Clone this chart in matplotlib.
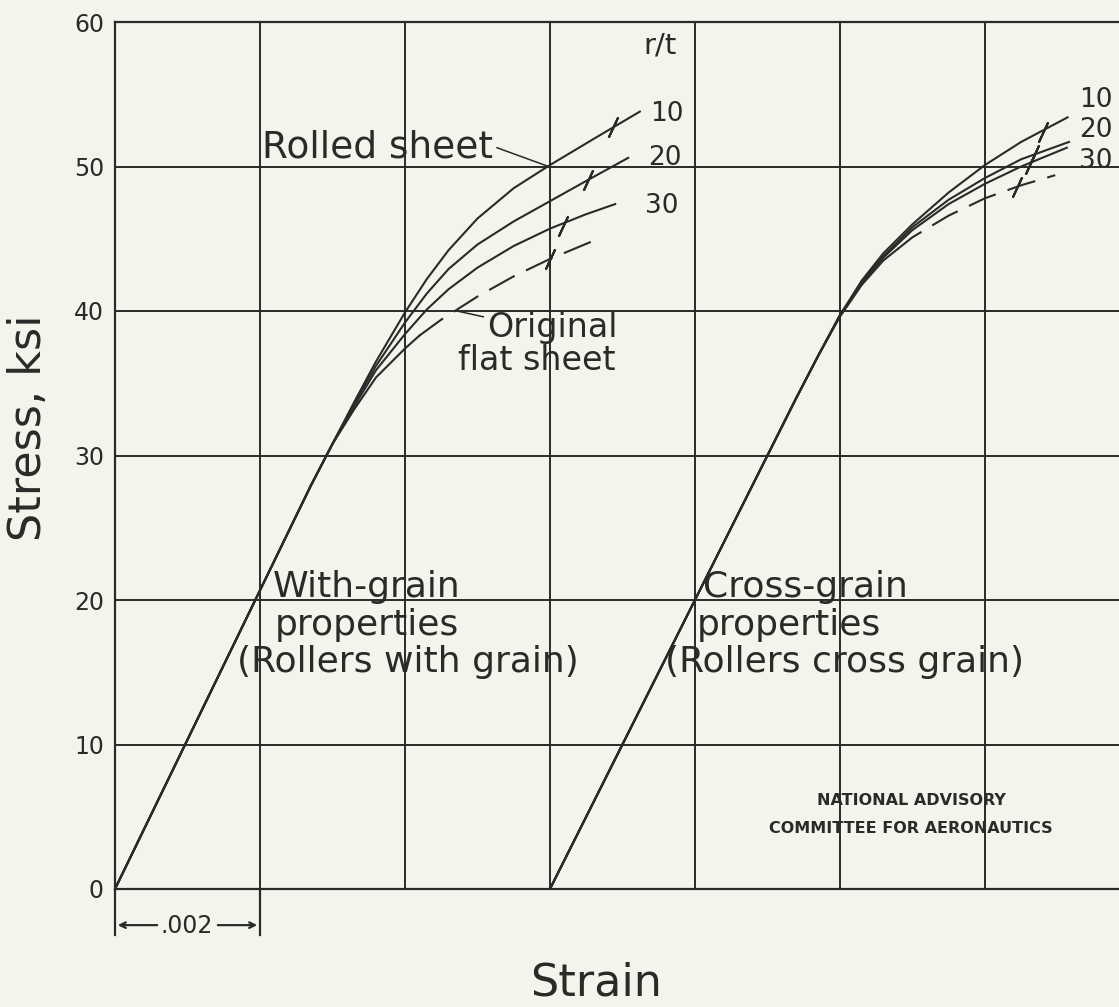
import matplotlib
matplotlib.use("Agg")
from matplotlib import pyplot as plt

# with-grain curves (strain, stress ksi)
wg_strain_10 = [0, 0.0027, 0.0030, 0.0033, 0.0036, 0.0040, 0.0043, 0.0046, 0.0050, 0.0055, 0.0060, 0.0066, 0.00724]
wg_stress_10 = [0, 27.9, 30.8, 33.7, 36.5, 39.9, 42.2, 44.2, 46.4, 48.5, 50.1, 51.9, 53.8]
wg_strain_20 = [0, 0.0027, 0.0030, 0.0033, 0.0036, 0.0040, 0.0043, 0.0046, 0.0050, 0.0055, 0.0060, 0.0065, 0.00708]
wg_stress_20 = [0, 27.9, 30.8, 33.6, 36.2, 39.2, 41.2, 42.9, 44.6, 46.2, 47.6, 49.0, 50.6]
wg_strain_30 = [0, 0.0027, 0.0030, 0.0033, 0.0036, 0.0040, 0.0043, 0.0046, 0.0050, 0.0055, 0.0060, 0.0065, 0.0069]
wg_stress_30 = [0, 27.9, 30.8, 33.4, 35.9, 38.4, 40.1, 41.5, 43.0, 44.5, 45.7, 46.7, 47.4]
wg_strain_flat = [0, 0.0027, 0.0030, 0.0033, 0.0036, 0.0040, 0.0042]
wg_stress_flat = [0, 27.9, 30.8, 33.2, 35.4, 37.4, 38.3]
wg_strain_flat_dash = [0.0042, 0.0045, 0.0050, 0.0055, 0.0060, 0.00662]
wg_stress_flat_dash = [38.3, 39.4, 41.0, 42.4, 43.6, 44.9]

# cross-grain curves
cg_strain_10 = [0.006, 0.0094, 0.0097, 0.0100, 0.0103, 0.0106, 0.0110, 0.0115, 0.0120, 0.0125, 0.01314]
cg_stress_10 = [0, 34.0, 36.9, 39.7, 42.1, 44.0, 46.0, 48.2, 50.1, 51.7, 53.4]
cg_strain_20 = [0.006, 0.0094, 0.0097, 0.0100, 0.0103, 0.0106, 0.0110, 0.0115, 0.0120, 0.0125, 0.01316]
cg_stress_20 = [0, 34.0, 36.9, 39.7, 42.0, 43.8, 45.8, 47.7, 49.2, 50.5, 51.7]
cg_strain_30 = [0.006, 0.0094, 0.0097, 0.0100, 0.0103, 0.0106, 0.0110, 0.0115, 0.0120, 0.0125, 0.01313]
cg_stress_30 = [0, 34.0, 36.9, 39.7, 41.9, 43.7, 45.6, 47.4, 48.8, 50.0, 51.3]
cg_strain_flat = [0.006, 0.0094, 0.0097, 0.0100, 0.0103, 0.0106, 0.0108]
cg_stress_flat = [0, 34.0, 36.9, 39.6, 41.8, 43.5, 44.3]
cg_strain_flat_dash = [0.0108, 0.0110, 0.0115, 0.0120, 0.0125, 0.01297]
cg_stress_flat_dash = [44.3, 45.1, 46.6, 47.8, 48.7, 49.4]

# small slanted marks on the curves
mark_strain = [0.00687, 0.00652, 0.00618, 0.0060, 0.0128, 0.01268, 0.01262, 0.01244]
mark_stress = [52.7, 49.1, 45.9, 43.6, 52.4, 50.8, 50.2, 48.6]

y_ticks = [0, 10, 20, 30, 40, 50, 60]
x_grid = [0, 0.002, 0.004, 0.006, 0.008, 0.010, 0.012]

ink = "#2b2a28"
paper = "#f4f3ec"
plt.rcParams["font.family"] = "DejaVu Sans"

fig = plt.figure(figsize=(11.19, 10.07), dpi=100, facecolor=paper)
ax = fig.add_axes([115/1119, 118/1007, 1004/1119, 867/1007], facecolor=paper)
ax.set_xlim(0, 0.01385)
ax.set_ylim(0, 60)

for s in ["left", "top", "bottom"]:
    ax.spines[s].set_color(ink)
    ax.spines[s].set_linewidth(1.6)
ax.spines["right"].set_visible(False)
ax.set_xticks(x_grid)
ax.set_xticklabels([])
ax.set_yticks(y_ticks)
ax.set_yticklabels([str(v) for v in y_ticks])
ax.tick_params(length=0, pad=8, labelsize=17, labelcolor=ink)
ax.grid(True, color=ink, linewidth=1.4)

lw = 1.5
dash = (14, 6)
for x, y in [(wg_strain_10, wg_stress_10), (wg_strain_20, wg_stress_20),
             (wg_strain_30, wg_stress_30), (wg_strain_flat, wg_stress_flat),
             (cg_strain_10, cg_stress_10), (cg_strain_20, cg_stress_20),
             (cg_strain_30, cg_stress_30), (cg_strain_flat, cg_stress_flat)]:
    ax.plot(x, y, color=ink, lw=lw, solid_joinstyle="round")
for x, y in [(wg_strain_flat_dash, wg_stress_flat_dash), (cg_strain_flat_dash, cg_stress_flat_dash)]:
    ax.plot(x, y, color=ink, lw=lw, dashes=dash)

ax.plot(mark_strain, mark_stress, linestyle="none", marker=(2, 2, -25),
        markersize=16, markeredgewidth=1.5, color=ink)

# extensions and .002 dimension below the axis
ax.plot([0, 0], [0, -3.2], color=ink, lw=1.6, clip_on=False)
ax.plot([0.002, 0.002], [0, -3.2], color=ink, lw=1.6, clip_on=False)
ax.text(0.00099, -2.55, ".002", fontsize=17, color=ink, ha="center", va="center")
ax.annotate("", xy=(0, -2.5), xytext=(0.00062, -2.5), annotation_clip=False,
            arrowprops=dict(arrowstyle="->", color=ink, lw=1.6))
ax.annotate("", xy=(0.002, -2.5), xytext=(0.00138, -2.5), annotation_clip=False,
            arrowprops=dict(arrowstyle="->", color=ink, lw=1.6))

fs = 26
ax.text(0.00752, 58.4, "r/t", fontsize=21, color=ink, ha="center", va="center")
ax.text(0.00738, 53.6, "10", fontsize=19, color=ink, ha="left", va="center")
ax.text(0.00735, 50.6, "20", fontsize=19, color=ink, ha="left", va="center")
ax.text(0.00731, 47.3, "30", fontsize=19, color=ink, ha="left", va="center")
ax.text(0.01330, 54.6, "10", fontsize=19, color=ink, ha="left", va="center")
ax.text(0.01330, 52.5, "20", fontsize=19, color=ink, ha="left", va="center")
ax.text(0.01330, 50.4, "30", fontsize=19, color=ink, ha="left", va="center")

ax.text(0.00203, 50.6, "Rolled sheet", fontsize=27, color=ink, ha="left", va="baseline")
ax.plot([0.00527, 0.00598], [51.3, 50.0], color=ink, lw=1.1)
ax.text(0.00514, 38.2, "Original", fontsize=24, color=ink, ha="left", va="baseline")
ax.text(0.00473, 35.9, "flat sheet", fontsize=24, color=ink, ha="left", va="baseline")
ax.plot([0.00508, 0.00472], [39.6, 40.0], color=ink, lw=1.1)

ax.text(0.00218, 20.2, "With-grain", fontsize=fs, color=ink, ha="left", va="baseline")
ax.text(0.00221, 17.6, "properties", fontsize=fs, color=ink, ha="left", va="baseline")
ax.text(0.00168, 15.0, "(Rollers with grain)", fontsize=fs, color=ink, ha="left", va="baseline")
ax.text(0.00811, 20.2, "Cross-grain", fontsize=fs, color=ink, ha="left", va="baseline")
ax.text(0.00803, 17.6, "properties", fontsize=fs, color=ink, ha="left", va="baseline")
ax.text(0.00759, 15.0, "(Rollers cross grain)", fontsize=fs, color=ink, ha="left", va="baseline")

ax.text(0.01098, 6.1, "NATIONAL ADVISORY", fontsize=11.5, fontweight="bold",
        color=ink, ha="center", va="center")
ax.text(0.01098, 4.2, "COMMITTEE FOR AERONAUTICS", fontsize=11.5, fontweight="bold",
        color=ink, ha="center", va="center")

fig.text(28/1119, 1 - 428/1007, "Stress, ksi", fontsize=32, color=ink,
         rotation=90, ha="center", va="center")
fig.text(596/1119, 1 - 983/1007, "Strain", fontsize=32, color=ink, ha="center", va="center")

fig.savefig("out.png", dpi=100, facecolor=paper)
